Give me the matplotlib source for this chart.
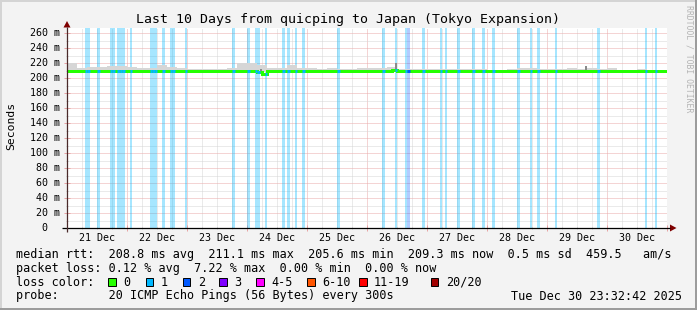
"""SmokePing style latency graph: 10 days of median RTT with loss bands."""
import numpy as np
import matplotlib
matplotlib.use("Agg")
import matplotlib.pyplot as plt
from matplotlib.patches import Rectangle, Polygon

W, H = 697, 310
MONO = "DejaVu Sans Mono"

# --------------- data ---------------
day_labels = ["21 Dec", "22 Dec", "23 Dec", "24 Dec", "25 Dec",
              "26 Dec", "27 Dec", "28 Dec", "29 Dec", "30 Dec"]
y_ticks = list(range(0, 261, 20))

# median rtt in ms, one value per 2 hours, starting 21 Dec 00:00
median_rtt = [
    209.6, 209.4, 209.0, 208.9, 209.1, 208.8, 209.2, 209.3, 209.4, 209.0, 208.9, 209.1,
    209.0, 208.8, 209.3, 209.5, 209.4, 209.1, 208.9, 209.0, 208.7, 209.2, 209.3, 209.1,
    209.0, 209.3, 209.4, 208.9, 208.8, 209.1, 209.2, 209.3, 208.9, 209.0, 209.2, 209.1,
    209.2, 209.4, 208.6, 206.0, 209.0, 209.3, 208.9, 209.1, 209.4, 209.2, 208.9, 209.0,
    209.1, 209.3, 209.0, 208.8, 209.2, 209.4, 209.1, 208.9, 209.0, 209.3, 209.2, 209.0,
    209.2, 209.0, 209.4, 209.1, 208.9, 210.4, 209.6, 209.3, 209.0, 208.8, 209.1, 209.2,
    209.3, 209.0, 208.9, 209.2, 209.1, 209.0, 208.8, 209.1, 209.3, 209.4, 209.9, 209.5,
    209.2, 208.9, 208.8, 209.0, 209.3, 209.1, 209.0, 208.7, 208.9, 209.2, 209.3, 209.0,
    209.1, 208.8, 209.0, 209.4, 209.2, 208.9, 208.7, 209.0, 209.3, 209.1, 208.9, 209.2,
    209.0, 209.3, 209.4, 209.1, 209.0, 208.9, 209.2, 209.3, 209.1, 209.4, 209.2, 209.3,
]

# upper edge of the ping spread (smoke) in ms, one value per 4 hours
smoke_top = [
    220.0, 214.0, 215.0, 215.0, 216.0, 216.0,
    215.0, 213.0, 213.0, 217.0, 215.0, 213.5,
    212.5, 212.0, 212.5, 212.0, 213.0, 220.0,
    220.0, 218.0, 213.0, 213.0, 217.0, 214.0,
    213.0, 212.5, 213.0, 212.0, 212.5, 213.0,
    213.0, 213.5, 214.5, 212.0, 212.0, 212.5,
    212.0, 212.0, 211.5, 212.0, 211.5, 211.5,
    211.0, 211.0, 211.5, 214.0, 213.5, 212.0,
    212.0, 212.5, 213.0, 212.5, 213.0, 212.0,
    213.5, 211.0, 211.0, 211.5, 211.0, 211.0,
]

# hours (since 21 Dec 00:00) with packet loss
loss1_hours = [7, 8, 12, 17, 18, 20, 21, 22, 25, 33, 34, 35, 38, 41, 42, 47,
               66, 72, 75, 76, 79, 86, 88, 91, 94, 108, 126, 131, 135, 142,
               149, 151, 156, 162, 166, 170, 180, 185, 188, 195, 212, 231, 235]
loss2_hours = [136]

# short bursts of wide ping spread
spike_hours = [77, 131, 207]
spike_top = [212.5, 220.0, 216.5]

loss_levels = ["0", "1", "2", "3", "4-5", "6-10", "11-19", "20/20"]
loss_colors = ["#26ff00", "#00b8ff", "#0059ff", "#7e00ff",
               "#ff00ff", "#ff5500", "#ff0000", "#a10000"]

legend_lines = [
    "median rtt:  208.8 ms avg  211.1 ms max  205.6 ms min  209.3 ms now  0.5 ms sd  459.5   am/s",
    "packet loss: 0.12 % avg  7.22 % max  0.00 % min  0.00 % now",
]
probe_line = "probe:       20 ICMP Echo Pings (56 Bytes) every 300s"
stamp = "Tue Dec 30 23:32:42 2025"

# --------------- layout ---------------
X0, X1, Y0, Y1 = 67, 667, 28, 228
Y_MAX = 266.67
swatch_x = [108.3, 145.7, 182.7, 219.3, 256.0, 307.3, 359.0, 430.7]

fig = plt.figure(figsize=(W / 100, H / 100), dpi=100, facecolor="#f3f3f3")
ax = fig.add_axes([X0 / W, 1 - Y1 / H, (X1 - X0) / W, (Y1 - Y0) / H])
ax.set_facecolor("white")
ax.set_xlim(-0.12, 239.88)
ax.set_ylim(0, Y_MAX)

# grid
ax.set_xticks(np.arange(0, 241, 24))
ax.set_xticks(np.arange(0, 241, 6), minor=True)
ax.set_yticks(np.arange(0, 261, 20))
ax.set_yticks(np.arange(0, 267, 10), minor=True)
ax.grid(which="major", color="#eaabab", ls=(0, (1, 1)), lw=0.72)
ax.grid(which="minor", color="#d6d6d6", ls=(0, (1, 1)), lw=0.72)
ax.set_axisbelow(True)
ax.tick_params(which="both", labelleft=False, labelbottom=False)
ax.tick_params(which="major", length=4, direction="inout", color="#e8a4a4", width=0.72)
ax.tick_params(which="minor", length=2, direction="inout", color="#c8c8c8", width=0.72)
for sp in ax.spines.values():
    sp.set_visible(False)

# loss background bars
ax.bar(loss1_hours, Y_MAX, width=1, align="edge", color=loss_colors[1],
       alpha=0.35, lw=0, zorder=1)
ax.bar(loss2_hours, Y_MAX, width=1, align="edge", color=loss_colors[2],
       alpha=0.30, lw=0, zorder=1)

# smoke
ax.stairs(smoke_top, np.arange(0, 241, 4), baseline=207.6, fill=True,
          color="#d6d6d6", lw=0, zorder=2)
ax.bar(spike_hours, np.array(spike_top) - 209.5, bottom=209.5, width=1,
       align="edge", color="#8a8a8a", lw=0, zorder=2)

# median line, coloured by loss
med_edges = np.arange(0, 241, 2)
ax.stairs(median_rtt, med_edges, baseline=None, color=loss_colors[0], lw=2.16, zorder=3)
med_hourly = np.repeat(median_rtt, 2)
for hours, col in ((loss1_hours, loss_colors[1]), (loss2_hours, loss_colors[2])):
    hrs = np.array(hours)
    ax.hlines(med_hourly[hrs], hrs, hrs + 1, color=col, lw=2.16, zorder=4)

# tick labels
for i, lab in enumerate(day_labels):
    ax.text(12 + 24 * i, -10 / 200, lab, transform=ax.get_xaxis_transform(),
            ha="center", va="center", fontsize=7.2, family=MONO)
for v in y_ticks:
    lab = f"{v} m" if v else "0"
    xr = (60 - X0) / 600 if v else (47 - X0) / 600
    ax.text(xr, v, lab, transform=ax.get_yaxis_transform(),
            ha="right", va="center", fontsize=7.2, family=MONO)

# --------------- decorations in pixel coordinates ---------------
deco = fig.add_axes([0, 0, 1, 1], zorder=5)
deco.set_xlim(0, W)
deco.set_ylim(H, 0)
deco.axis("off")
deco.patch.set_alpha(0)

# frame shading
deco.add_patch(Rectangle((0, 0), W, 2, color="#d4d4d4", lw=0))
deco.add_patch(Rectangle((0, 0), 2, H, color="#d4d4d4", lw=0))
deco.add_patch(Rectangle((0, H - 2.5), W, 2.5, color="#9c9c9c", lw=0))
deco.add_patch(Rectangle((W - 2.5, 0), 2.5, H, color="#9c9c9c", lw=0))

# axes with arrows
deco.plot([62, 670], [Y1, Y1], color="black", lw=0.9, solid_capstyle="butt")
deco.plot([X0, X0], [Y1 + 4, 27], color="#4a2a2a", lw=0.9, solid_capstyle="butt")
deco.add_patch(Polygon([(670, Y1 - 3.5), (676.5, Y1), (670, Y1 + 3.5)],
                       closed=True, color="#7f0000", lw=0))
deco.add_patch(Polygon([(X0 - 3.5, 27.5), (X0, 21), (X0 + 3.5, 27.5)],
                       closed=True, color="#7f0000", lw=0))

# title, axis label, watermark
deco.text(347.5, 19, "Last 10 Days from quicping to Japan (Tokyo Expansion)",
          ha="center", va="center", fontsize=9.5, family=MONO)
deco.text(11, 126, "Seconds", rotation=90, ha="center", va="center",
          fontsize=8.2, family=MONO)
deco.text(688.5, 5, "RRDTOOL / TOBI OETIKER", rotation=270, ha="center", va="top",
          fontsize=5.9, family=MONO, color="#b4b4b4")

# legend
for k, line in enumerate(legend_lines):
    deco.text(16, 254.3 + 14 * k, line, ha="left", va="center",
              fontsize=8.47, family=MONO)
deco.text(16, 282.3, "loss color:", ha="left", va="center", fontsize=8.47, family=MONO)
for sx, lab, col in zip(swatch_x, loss_levels, loss_colors):
    deco.add_patch(Rectangle((sx, 277.8), 7.7, 8, facecolor=col,
                             edgecolor="black", lw=0.7))
    deco.text(sx + 15, 282.3, lab, ha="left", va="center", fontsize=8.47, family=MONO)
deco.text(16, 296, probe_line, ha="left", va="center", fontsize=8.47, family=MONO)
deco.text(511, 296, stamp, ha="left", va="center", fontsize=8.47, family=MONO)

fig.savefig("out.png", dpi=100, facecolor=fig.get_facecolor())
